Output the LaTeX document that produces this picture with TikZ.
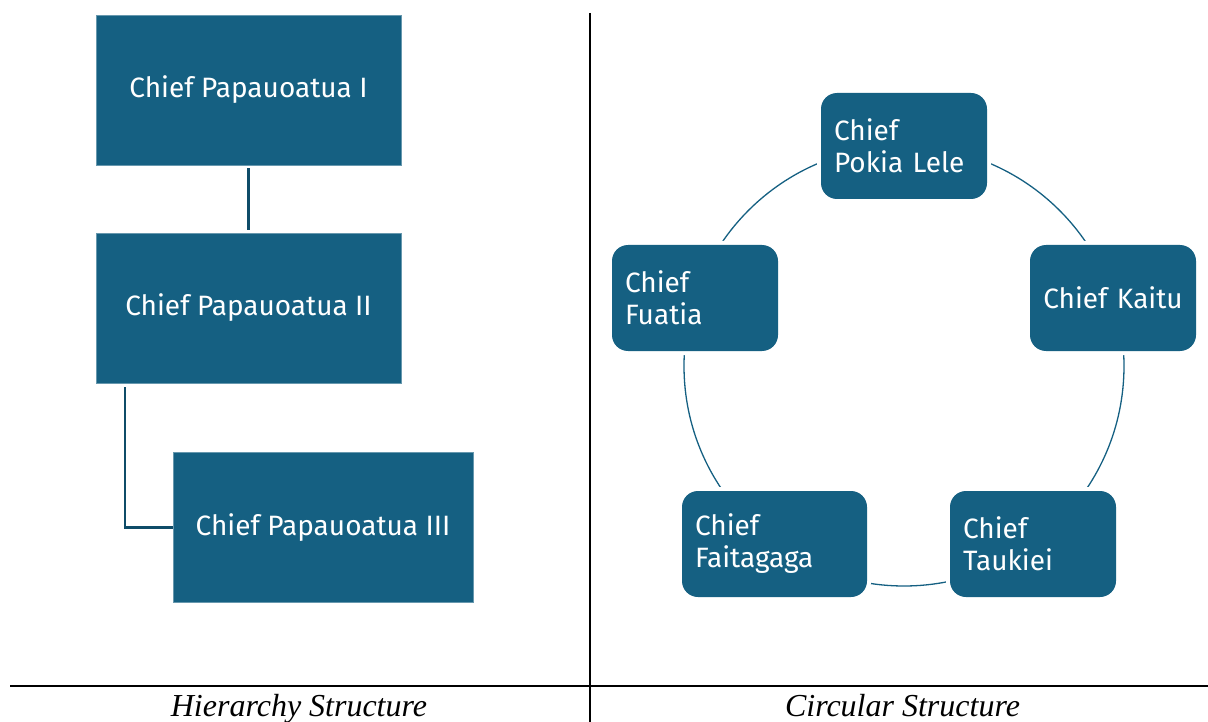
\documentclass[tikz,border=0pt]{standalone}
\usepackage{fontspec}
\setmainfont{Liberation Serif}
\newfontfamily\chieffont{Fira Sans}
\definecolor{chiefblue}{HTML}{156082}
\definecolor{linkblue}{HTML}{0F4C68}
\begin{document}
\begin{tikzpicture}[x=1pt,y=-1pt,
  hbox/.style={rectangle, fill=chiefblue, draw=chiefblue!65!white, line width=0.8pt,
    minimum width=305pt, minimum height=150pt, inner sep=0pt, text=white,
    font=\chieffont\fontsize{28}{32}\selectfont},
  cbox/.style={rectangle, rounded corners=16pt, fill=chiefblue,
    preaction={draw=white, line width=8pt},
    minimum width=166pt, minimum height=106pt, inner xsep=13pt, inner ysep=0pt,
    text width=140pt, align=left, text=white,
    font=\chieffont\fontsize{28}{32}\selectfont},
  elbow/.style={draw=linkblue, line width=2.2pt},
  ring/.style={draw=chiefblue, line width=1.3pt},
  rulestyle/.style={draw=black, line width=1.8pt},
  divider/.style={draw=black, line width=1.4pt},
  captiontext/.style={font=\itshape\fontsize{32}{32}\selectfont, inner sep=0pt, anchor=base}
]
\useasboundingbox (0,0) rectangle (1208,722);

% page frame: column divider and caption rule
\coordinate (dtop) at (590,13);
\coordinate (dbot) at (590,722);
\coordinate (rl) at (10,686);
\coordinate (rr) at (1208,686);
\draw[divider] (dtop) -- (dbot);
\draw[rulestyle] (rl) -- (rr);

% hierarchy
\node[hbox] (h1) at (248.5,90) {Chief Papauoatua I};
\node[hbox] (h2) at (248.5,308) {Chief Papauoatua II};
\node[hbox, minimum width=300pt] (h3) at (323,527.5) {Chief Papauoatua III};
\draw[elbow] ([yshift=-3pt]h1.south) -- ([yshift=3pt]h2.north);
\draw[elbow] ([xshift=29pt,yshift=-4pt]h2.south west) |- (h3.west);

% circle of chiefs
\coordinate (ctr) at (904,366);
\draw[ring] (ctr) circle[radius=220];
\node[cbox] (pokia) at (904,146) {Chief\\Pokia Lele};
\node[cbox, align=center] (kaitu) at (1113,298) {Chief Kaitu};
\node[cbox] (taukiei) at (1033,544) {Chief\\Taukiei};
\node[cbox, minimum width=185pt, text width=159pt] (faitagaga) at (774.5,544) {Chief\\Faitagaga};
\node[cbox] (fuatia) at (695,298) {Chief\\Fuatia};

% captions
\node[captiontext] (caph) at (299,716) {Hierarchy Structure};
\node[captiontext] (capc) at (902.5,716) {Circular Structure};
\end{tikzpicture}
\end{document}
